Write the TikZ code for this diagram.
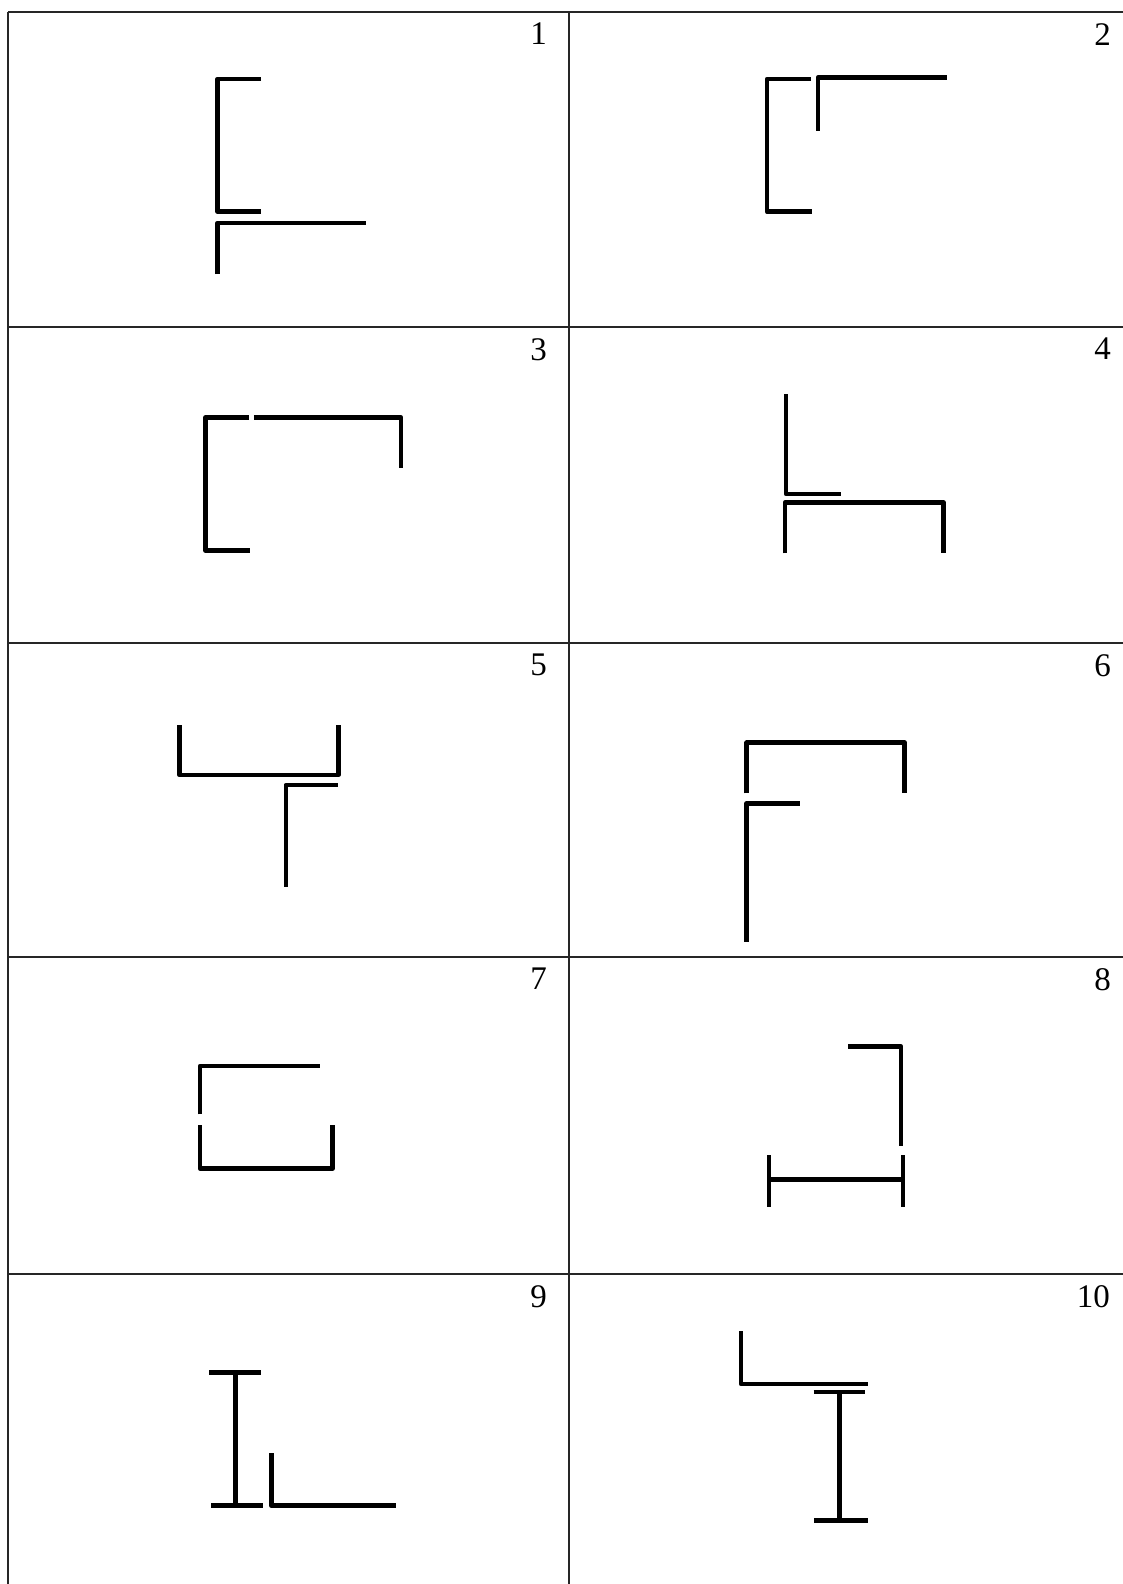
\documentclass[tikz,border=0pt]{standalone}
\usepackage{fontspec}
\setmainfont{Liberation Serif}

\begin{document}
\begin{tikzpicture}[x=1pt, y=-1pt,
    profile/.style={line width=4.6pt, line join=round, black},
    rule/.style={line width=1.8pt, black!85},
    cellnum/.style={anchor=north east, inner sep=0pt, font=\fontsize{33}{38}\selectfont}]
    \useasboundingbox (0,0) rectangle (1123,1584);

    % Table rules
    \draw[rule] (8,12) -- (8,1584);
    \draw[rule] (569,12) -- (569,1584);
    \foreach \y in {12,327,643,957,1274}
        \draw[rule] (8,\y) -- (1123,\y);

    % Cell numbers
    \foreach \n/\x/\y in {1/547/23, 2/1111/23, 3/547/338, 4/1111/338, 5/547/654,
                          6/1111/654, 7/547/968, 8/1111/968, 9/547/1285, 10/1110/1285}
        \node[cellnum] (num\n) at (\x,\y) {\n};

    % 1: channel over angle
    \draw[profile] (261,79) -- (217.5,79) -- (217.5,211.7) -- (261,211.7);
    \draw[profile] (217.5,274) -- (217.5,223) -- (365.5,223);

    % 2: channel beside angle
    \draw[profile] (811,79) -- (767,79) -- (767,211.7) -- (812,211.7);
    \draw[profile] (818,131) -- (818,77.7) -- (947,77.7);

    % 3: channel closed by angle
    \draw[profile] (249,417.7) -- (205.5,417.7) -- (205.5,550.7) -- (250,550.7);
    \draw[profile] (253.8,417.7) -- (401,417.7) -- (401,468.3);

    % 4: angle on channel
    \draw[profile] (786,394) -- (786,494) -- (841,494);
    \draw[profile] (785,553.3) -- (785,502.7) -- (943.5,502.7) -- (943.5,553.3);

    % 5: channel over angle
    \draw[profile] (179.6,725) -- (179.6,775) -- (338.2,775) -- (338.2,725);
    \draw[profile] (285.8,886.7) -- (285.8,785) -- (338.2,785);

    % 6: channel over angle
    \draw[profile] (746.7,793.3) -- (746.7,742.7) -- (904.7,742.7) -- (904.7,793.3);
    \draw[profile] (746.7,941.7) -- (746.7,803.3) -- (800,803.3);

    % 7: angle and channel
    \draw[profile] (200,1114.3) -- (200,1066) -- (320,1066);
    \draw[profile] (200,1125) -- (200,1168.3) -- (332.7,1168.3) -- (332.7,1125);

    % 8: angle over H
    \draw[profile] (848.3,1046.7) -- (901.1,1046.7) -- (901.1,1146);
    \draw[profile] (769,1155) -- (769,1206.7);
    \draw[profile] (902.9,1155) -- (902.9,1206.7);
    \draw[profile] (769,1179.3) -- (902.9,1179.3);

    % 9: I-beam beside angle
    \draw[profile] (209,1372.7) -- (261,1372.7);
    \draw[profile] (235.6,1372.7) -- (235.6,1505.7);
    \draw[profile] (211,1505.7) -- (262.5,1505.7);
    \draw[profile] (271.3,1453.3) -- (271.3,1505.7) -- (396.4,1505.7);

    % 10: angle on I-beam
    \draw[profile] (741,1331) -- (741,1384) -- (868,1384);
    \draw[profile] (813.5,1392) -- (865.2,1392);
    \draw[profile] (839.4,1392) -- (839.4,1520.7);
    \draw[profile] (814.2,1520.7) -- (868,1520.7);
\end{tikzpicture}
\end{document}
